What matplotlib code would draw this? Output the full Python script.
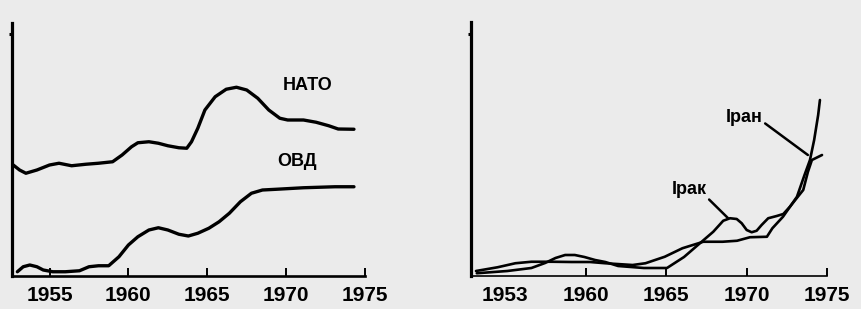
import matplotlib
matplotlib.use("Agg")
import matplotlib.pyplot as plt

plt.rcParams.update({
    "font.family": ["Liberation Sans", "DejaVu Sans"],
    "font.weight": "bold",
})

# ── Left panel: НАТО vs ОВД ──
nato_years = [1952.7, 1953.1, 1953.5, 1954.2, 1955.0, 1955.6, 1956.4, 1957.3, 1958.1,
              1959.0, 1959.6, 1960.2, 1960.6, 1961.3, 1961.9, 1962.5, 1963.2, 1963.7,
              1964.0, 1964.4, 1964.85, 1965.5, 1966.2, 1966.85, 1967.5, 1968.2, 1968.9,
              1969.6, 1970.1, 1971.1, 1971.9, 1972.7, 1973.3, 1974.3]
nato_vals = [44.4, 42.4, 41.1, 42.4, 44.4, 45.1, 44.1, 44.7, 45.1,
             45.7, 48.4, 51.7, 53.3, 53.7, 53.1, 52.1, 51.3, 51.1,
             53.7, 59.1, 66.4, 71.7, 74.7, 75.5, 74.4, 71.1, 66.4,
             63.1, 62.4, 62.4, 61.5, 60.1, 58.8, 58.7]

ovd_years = [1952.96, 1953.33, 1953.75, 1954.2, 1954.6, 1955.2, 1956.0, 1956.9, 1957.5,
             1958.1, 1958.75, 1959.4, 1960.0, 1960.6, 1961.3, 1961.9, 1962.5, 1963.2,
             1963.8, 1964.4, 1965.1, 1965.75, 1966.4, 1967.1, 1967.8, 1968.5, 1969.4,
             1971.1, 1973.1, 1974.3]
ovd_vals = [1.7, 3.7, 4.4, 3.7, 2.4, 1.7, 1.7, 2.1, 3.7,
            4.1, 4.1, 7.7, 12.4, 15.7, 18.4, 19.3, 18.4, 16.7,
            16.0, 17.1, 19.1, 21.7, 25.1, 29.7, 33.1, 34.4, 34.7,
            35.3, 35.7, 35.7]

left_ticks = [1955, 1960, 1965, 1970, 1975]

# ── Right panel: Ірак vs Іран ──
iraq_years = [1953.2, 1955.1, 1956.6, 1957.45, 1958.1, 1958.7, 1959.3, 1959.9, 1960.56,
              1961.2, 1962.0, 1963.6, 1965.04, 1966.1, 1967.09, 1967.92, 1968.54, 1968.96,
              1969.38, 1969.69, 1970.0, 1970.31, 1970.62, 1970.93, 1971.34, 1971.87,
              1972.28, 1972.69, 1973.11, 1973.52, 1973.81, 1974.06, 1974.69]
iraq_vals = [1.1, 2.0, 3.2, 5.2, 7.2, 8.4, 8.4, 7.6, 6.4,
             5.6, 4.0, 3.2, 3.2, 7.6, 13.1, 17.7, 22.1, 23.1,
             22.8, 21.1, 18.4, 17.5, 18.1, 20.4, 23.1, 24.0,
             24.8, 27.7, 31.1, 34.4, 41.6, 46.4, 48.4]

iran_years = [1953.15, 1954.5, 1955.6, 1956.6, 1957.9, 1959.1, 1960.25, 1961.2, 1962.9,
              1963.7, 1964.9, 1966.0, 1967.3, 1968.5, 1969.4, 1970.2, 1971.26, 1971.6,
              1972.26, 1973.13, 1973.6, 1973.94, 1974.2, 1974.45, 1974.56]
iran_vals = [2.0, 3.5, 5.1, 5.7, 5.7, 5.6, 5.6, 5.1, 4.4,
             5.1, 7.7, 11.1, 13.7, 13.7, 14.1, 15.5, 15.7, 19.1,
             23.7, 31.7, 40.4, 46.4, 54.4, 64.4, 70.4]

right_ticks = [1960, 1965, 1970, 1975]

W, H = 862, 309
fig = plt.figure(figsize=(W / 100, H / 100), dpi=100, facecolor="#ebebeb")

ax_l = fig.add_axes([12 / W, 1 - 276 / H, (365 - 12) / W, (276 - 23) / H])
ax_r = fig.add_axes([471 / W, 1 - 276 / H, (827 - 471) / W, (276 - 22) / H])

for ax in (ax_l, ax_r):
    ax.set_facecolor("none")
    for s in ("top", "right"):
        ax.spines[s].set_visible(False)
    ax.spines["left"].set_linewidth(2.3)
    ax.tick_params(axis="x", direction="in", length=6, width=1.4, pad=7,
                   labelsize=15, colors="black")
    ax.tick_params(axis="y", direction="out", length=2.5, width=2.2, labelleft=False)
    ax.set_yticks([97])

line_kw = dict(color="black", solid_joinstyle="round", solid_capstyle="round")

# left panel
ax_l.plot(nato_years, nato_vals, lw=2.4, **line_kw)
ax_l.plot(ovd_years, ovd_vals, lw=2.4, **line_kw)
ax_l.set_xlim(1952.62, 1975)
ax_l.set_ylim(0, 101.2)
ax_l.spines["bottom"].set_linewidth(1.9)
ax_l.set_xticks(left_ticks)
ax_l.set_xticklabels([str(t) for t in left_ticks], fontweight="bold")
ax_l.text(1971.39, 76.4, "НАТО", fontsize=13, fontweight="bold", ha="center", va="center")
ax_l.text(1970.69, 45.6, "ОВД", fontsize=13, fontweight="bold", ha="center", va="center")

# right panel
ax_r.plot(iraq_years, iraq_vals, lw=1.9, **line_kw)
ax_r.plot(iran_years, iran_vals, lw=1.9, **line_kw)
ax_r.set_xlim(1952.84, 1975)
ax_r.set_ylim(0, 101.6)
ax_r.spines["bottom"].set_linewidth(1.2)
ax_r.set_xticks(right_ticks)
ax_r.set_xticklabels([str(t) for t in right_ticks], fontweight="bold")
ax_r.annotate("1953", xy=(1953.0, 0), xytext=(31, -9.7), textcoords="offset pixels",
              ha="center", va="top", fontsize=15, fontweight="bold",
              annotation_clip=False)

ax_r.annotate("Іран", xy=(1973.81, 48.4), xytext=(1969.83, 63.2),
              fontsize=13, fontweight="bold", ha="center", va="center",
              arrowprops=dict(arrowstyle="-", lw=1.8, color="black",
                              relpos=(1.0, 0.3), shrinkA=0, shrinkB=0))
ax_r.annotate("Ірак", xy=(1968.83, 23.2), xytext=(1966.4, 34.4),
              fontsize=13, fontweight="bold", ha="center", va="center",
              arrowprops=dict(arrowstyle="-", lw=1.8, color="black",
                              relpos=(1.0, 0.1), shrinkA=0, shrinkB=0))

fig.savefig("out.png", dpi=100, facecolor=fig.get_facecolor())
